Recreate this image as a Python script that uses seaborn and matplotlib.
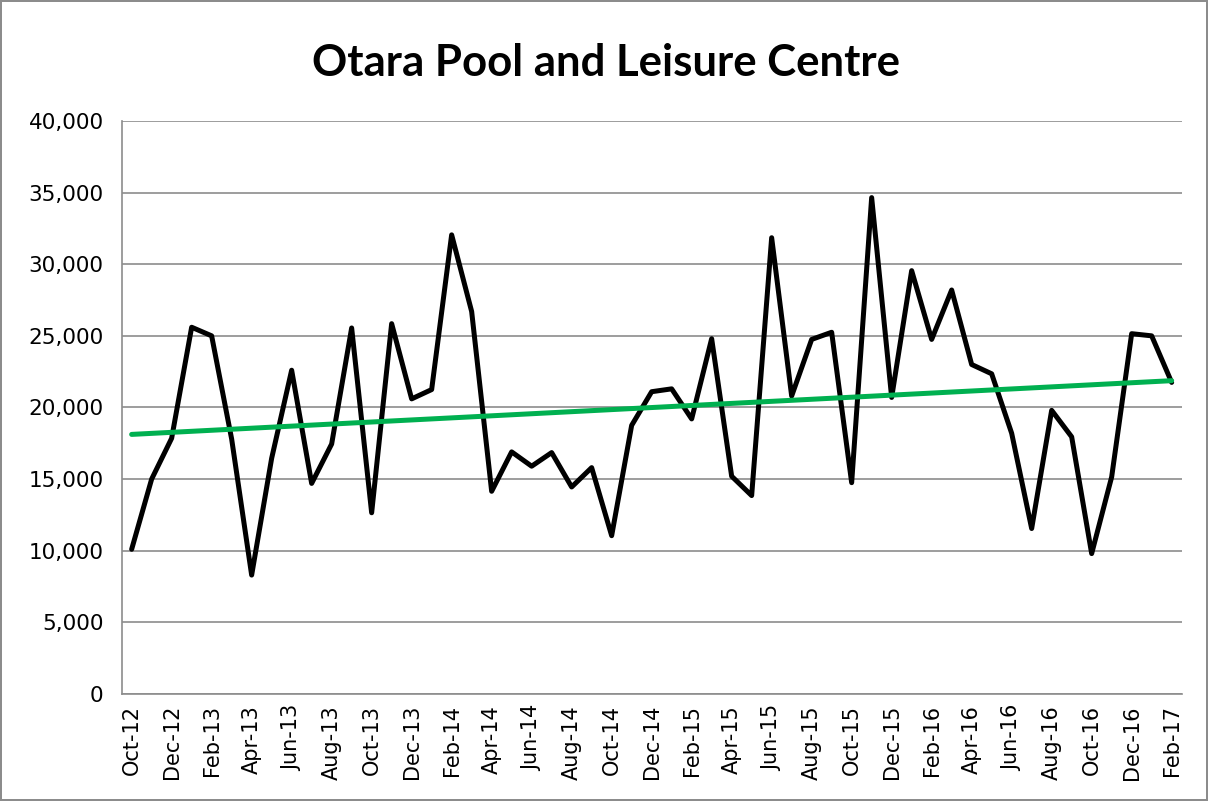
import numpy as np
import pandas as pd
import matplotlib
matplotlib.use("Agg")
import matplotlib.pyplot as plt
import seaborn as sns

# ----------------------------
# DATA (monthly visits)
# ----------------------------
months = pd.date_range("2012-10-01", periods=53, freq="MS").strftime("%b-%y").tolist()
visits = [
    10100, 15000, 17850, 25600, 25000, 17800, 8300, 16450, 22600, 14700,
    17450, 25550, 12650, 25850, 20600, 21250, 32050, 26700, 14150, 16900,
    15900, 16850, 14450, 15800, 11050, 18750, 21100, 21300, 19200, 24800,
    15200, 13850, 31850, 20800, 24750, 25250, 14750, 34650, 20700, 29550,
    24750, 28200, 23000, 22350, 18200, 11550, 19800, 17950, 9800, 15150,
    25150, 25000, 21750,
]
TITLE = "Otara Pool and Leisure Centre"

df = pd.DataFrame({"idx": np.arange(len(months)), "month": months, "visits": visits})

# ----------------------------
# STYLE
# ----------------------------
sns.set_theme(style="white")
plt.rcParams["font.family"] = ["DejaVu Sans"]
plt.rcParams["text.color"] = "black"
plt.rcParams["xtick.color"] = "black"
plt.rcParams["ytick.color"] = "black"
GRID = "#8c8c8c"

fig = plt.figure(figsize=(12.08, 8.01), dpi=100)
fig.patch.set_edgecolor(GRID)
fig.patch.set_linewidth(1.5)
ax = fig.add_axes([0.1007, 0.1336, 0.8775, 0.7154])

# ----------------------------
# PLOT
# ----------------------------
sns.lineplot(data=df, x="idx", y="visits", color="black", linewidth=3.6, ax=ax, zorder=3)
sns.regplot(data=df, x="idx", y="visits", scatter=False, ci=None, color="#00B050",
            line_kws={"linewidth": 3.6, "zorder": 4}, ax=ax)

ax.set_xlim(-0.5, len(months) - 0.5)
ax.set_ylim(0, 40000)
ax.set_yticks(np.arange(0, 40001, 5000))
ax.set_yticklabels([f"{v:,}" for v in range(0, 40001, 5000)], fontsize=15.5)
ax.yaxis.grid(True, color=GRID, linewidth=1.2)
ax.set_axisbelow(True)

ax.set_xticks(df["idx"][::2])
ax.set_xticklabels(df["month"][::2], rotation=90, fontsize=15)
ax.set_xticks(np.arange(-0.5, len(months) - 1, 2), minor=True)
ax.tick_params(axis="x", which="major", length=0, pad=8, colors="black")
ax.tick_params(axis="x", which="minor", length=8, width=1.2, color=GRID, direction="out")
ax.tick_params(axis="y", length=8, width=1.2, color=GRID, labelcolor="black",
               direction="out", pad=5)
ax.set_xlabel("")
ax.set_ylabel("")

for s in ["top", "right"]:
    ax.spines[s].set_visible(False)
for s in ["left", "bottom"]:
    ax.spines[s].set_color(GRID)
    ax.spines[s].set_linewidth(1.2)

fig.text(0.502, 0.921, TITLE, ha="center", va="center", fontsize=31.5,
         fontweight="bold", family=["Lato", "DejaVu Sans"], color="black")

fig.savefig("out.png", dpi=100, edgecolor=fig.get_edgecolor())
